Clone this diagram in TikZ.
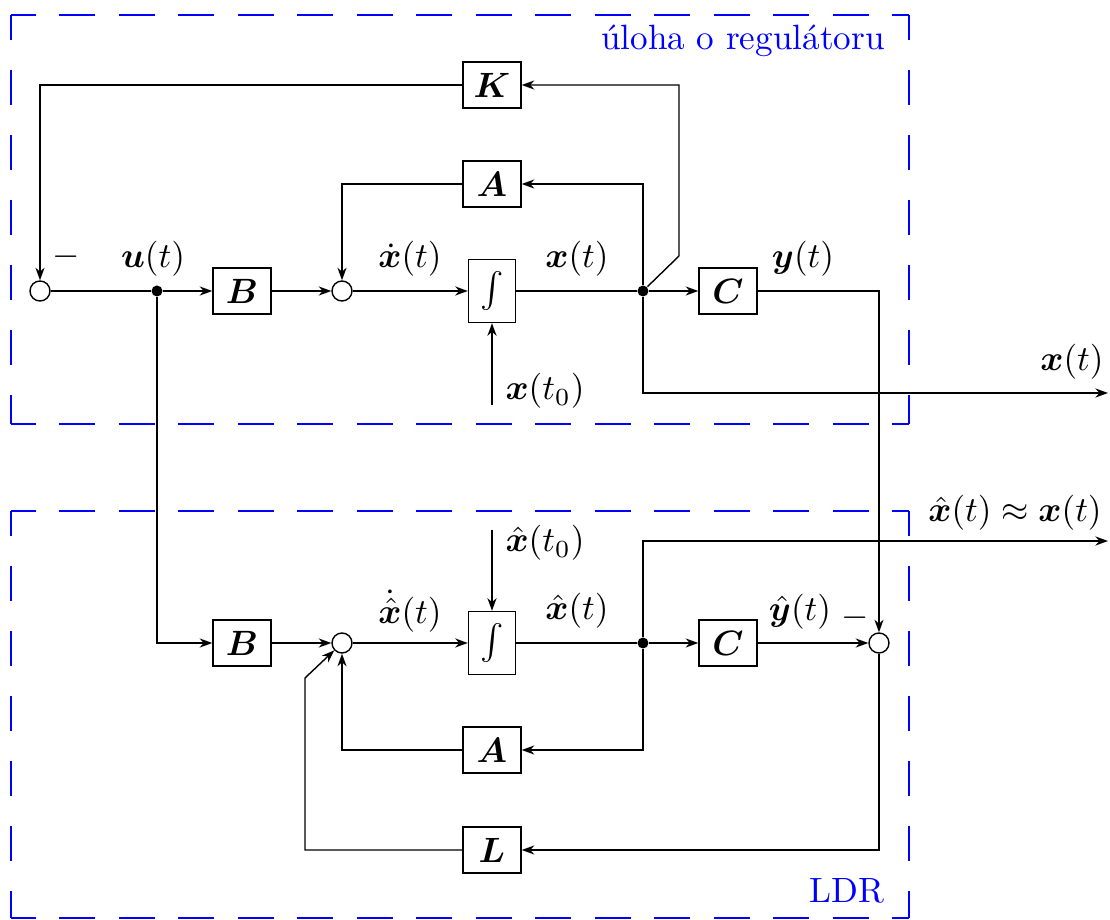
\documentclass[tikz,border=0pt]{standalone}
\usepackage{bm}
\usetikzlibrary{arrows.meta}

\tikzset{
  block/.style={draw, minimum width=0.58cm, minimum height=0.46cm, inner sep=2pt},
  intblock/.style={draw, minimum width=0.47cm, minimum height=0.63cm, inner sep=1pt},
  sumnode/.style={draw, circle, minimum size=0.2cm, inner sep=0pt},
  junction/.style={fill, circle, minimum size=0.11cm, inner sep=0pt},
  conn/.style={-{Stealth[length=3.6pt,width=2.6pt]}},
  hregion/.style={blue, line width=0.35pt, dash pattern=on 0.36cm off 0.235cm, dash phase=0.11cm},
  vregion/.style={blue, line width=0.35pt, dash pattern=on 0.35cm off 0.30cm, dash phase=0.10cm},
}

\begin{document}
\begin{tikzpicture}
  \useasboundingbox (0,0) rectangle (11.1,9.2);

  % Define blocks of the controlled system
  \node[sumnode] (sumK) at (0.40,6.29) {};
  \node[junction] (splitU) at (1.57,6.29) {};
  \node[block] (B) at (2.42,6.29) {$\bm{B}$};
  \node[sumnode] (sumA) at (3.42,6.29) {};
  \node[intblock] (int) at (4.92,6.29) {$\int$};
  \node[junction] (splitX) at (6.43,6.29) {};
  \node[block] (C) at (7.28,6.29) {$\bm{C}$};
  \node[block] (K) at (4.92,8.35) {$\bm{K}$};
  \node[block] (A) at (4.92,7.36) {$\bm{A}$};
  \coordinate (x0) at (4.92,5.15);
  \coordinate (xout) at (11.08,5.27);
  \coordinate (Kbend) at (6.79,6.64);

  % Define blocks of the observer
  \node[block] (Bo) at (2.42,2.77) {$\bm{B}$};
  \node[sumnode] (sumO) at (3.42,2.77) {};
  \node[intblock] (into) at (4.92,2.77) {$\int$};
  \node[junction] (splitXo) at (6.43,2.77) {};
  \node[block] (Co) at (7.28,2.77) {$\bm{C}$};
  \node[sumnode] (sumL) at (8.79,2.77) {};
  \node[block] (Ao) at (4.92,1.70) {$\bm{A}$};
  \node[block] (L) at (4.92,0.70) {$\bm{L}$};
  \coordinate (x0o) at (4.92,3.90);
  \coordinate (xouto) at (11.08,3.79);
  \coordinate (Lbend) at (3.05,2.42);

  % Draw dashed regions
  \draw[hregion] (0.11,9.05) -- (9.09,9.05);
  \draw[hregion] (0.11,4.96) -- (9.09,4.96);
  \draw[vregion] (0.11,9.05) -- (0.11,4.96);
  \draw[vregion] (9.09,9.05) -- (9.09,4.96);
  \draw[hregion] (0.11,4.09) -- (9.09,4.09);
  \draw[hregion] (0.11,0.02) -- (9.09,0.02);
  \draw[vregion] (0.11,4.09) -- (0.11,0.02);
  \draw[vregion] (9.09,4.09) -- (9.09,0.02);
  \node[blue, anchor=base east] at (8.97,8.70) {úloha o regulátoru};
  \node[blue, anchor=base east] at (8.97,0.17) {LDR};

  % Draw controller loop
  \draw (sumK) -- (splitU);
  \draw[conn] (splitU) -- (B);
  \draw[conn] (B) -- (sumA);
  \draw[conn] (sumA) -- (int);
  \draw (int) -- (splitX);
  \draw[conn] (splitX) -- (C);
  \draw[conn] (splitX) -- (Kbend) |- (K);
  \draw[conn] (K) -| (sumK);
  \draw[conn] (splitX) |- (A);
  \draw[conn] (A) -| (sumA);
  \draw[conn] (x0) -- (int);
  \draw[conn] (splitX) |- (xout);
  \draw[conn] (C) -| (sumL);

  % Draw observer loop
  \draw[conn] (splitU) |- (Bo);
  \draw[conn] (Bo) -- (sumO);
  \draw[conn] (sumO) -- (into);
  \draw (into) -- (splitXo);
  \draw[conn] (splitXo) -- (Co);
  \draw[conn] (Co) -- (sumL);
  \draw[conn] (x0o) -- (into);
  \draw[conn] (splitXo) |- (xouto);
  \draw[conn] (splitXo) |- (Ao);
  \draw[conn] (Ao) -| (sumO);
  \draw[conn] (sumL) |- (L);
  \draw[conn] (L) -| (Lbend) -- (sumO);

  % Signal labels
  \node at (0.66,6.63) {$-$};
  \node at (1.53,6.61) {$\bm{u}(t)$};
  \node at (4.10,6.61) {$\dot{\bm{x}}(t)$};
  \node at (5.77,6.61) {$\bm{x}(t)$};
  \node at (8.03,6.61) {$\bm{y}(t)$};
  \node at (5.45,5.29) {$\bm{x}(t_0)$};
  \node at (10.72,5.58) {$\bm{x}(t)$};
  \node at (4.10,3.09) {$\dot{\hat{\bm{x}}}(t)$};
  \node at (5.77,3.09) {$\hat{\bm{x}}(t)$};
  \node at (8.00,3.08) {$\hat{\bm{y}}(t)$};
  \node at (8.55,3.02) {$-$};
  \node at (5.45,3.77) {$\hat{\bm{x}}(t_0)$};
  \node at (10.15,4.07) {$\hat{\bm{x}}(t) \approx \bm{x}(t)$};
\end{tikzpicture}
\end{document}
